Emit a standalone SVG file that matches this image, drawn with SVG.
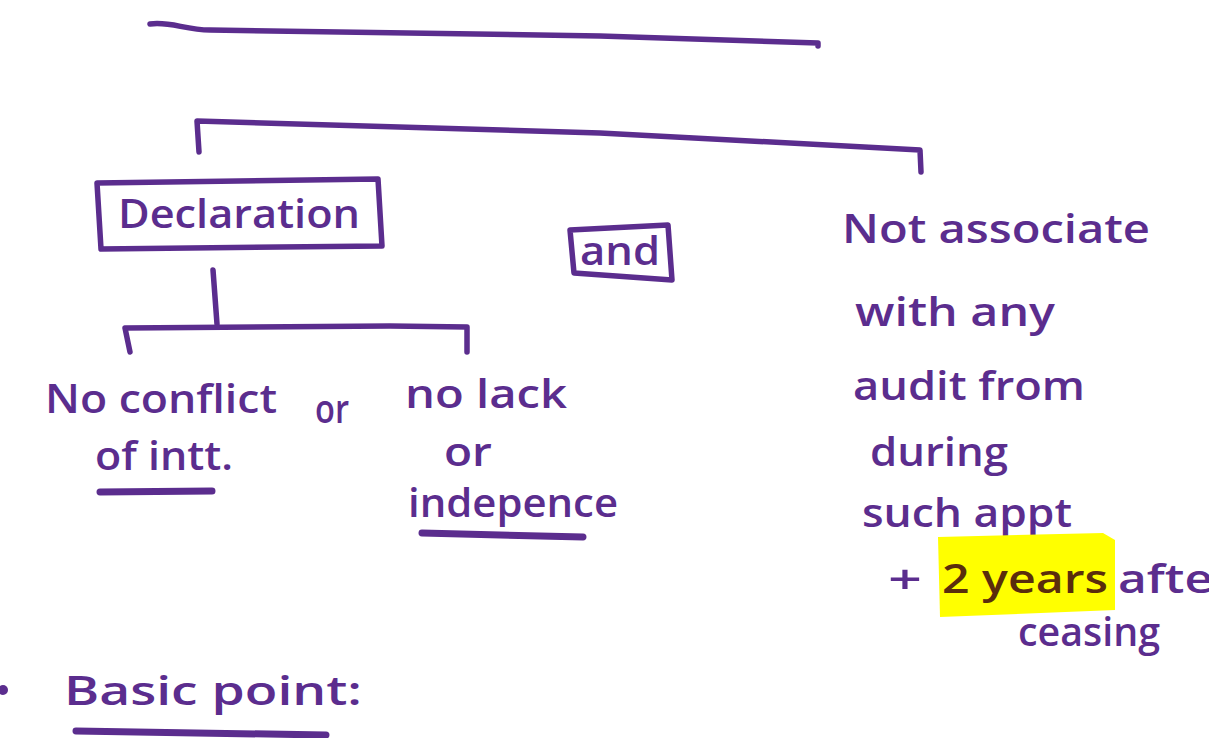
<svg xmlns="http://www.w3.org/2000/svg" width="1209" height="738" viewBox="0 0 1209 738">
<style>
.ln{fill:none;stroke:#5b2d8e;stroke-width:5.5;stroke-linecap:round;stroke-linejoin:round}
.ul{fill:none;stroke:#5b2d8e;stroke-width:7;stroke-linecap:round}
.t{font-family:"Open Sans","Liberation Sans",sans-serif;fill:#5b2d8e;font-size:40px;font-weight:600}
.hl{fill:#ffff00}
.dk{font-family:"Open Sans","Liberation Sans",sans-serif;fill:#5a2d0c;font-size:40px;font-weight:600}
</style>
<rect width="1209" height="738" fill="#ffffff"/>
<g id="title-underline">
<path class="ln" d="M150,24 C170,21 185,30 210,30 L600,36 L818,43 L818,46"/>
</g>
<g id="connectors">
<path class="ln" d="M199,152 L197,121 L600,133 L920,150 L921,172"/>
<path class="ln" d="M213,270 L217,324"/>
<path class="ln" d="M130,352 L125,328 L390,326 L467,327 L467,352"/>
</g>
<g id="declaration">
<path class="ln" d="M97,183 L378,179 L382,246 L101,249 Z"/>
<text class="t" x="118" y="228" textLength="242" lengthAdjust="spacingAndGlyphs">Declaration</text>
</g>
<g id="and">
<path class="ln" d="M570,230 L668,225 L672,280 L574,273 Z"/>
<text class="t" x="580" y="265" textLength="80" lengthAdjust="spacingAndGlyphs">and</text>
</g>
<g id="no-conflict">
<text class="t" x="45" y="413" textLength="232" lengthAdjust="spacingAndGlyphs">No conflict</text>
<text class="t" x="95" y="470" textLength="138" lengthAdjust="spacingAndGlyphs">of intt.</text>
<path class="ul" d="M100,492 L212,491"/>
</g>
<g id="or">
<text class="t" x="315" y="423" textLength="34" lengthAdjust="spacingAndGlyphs">or</text>
</g>
<g id="no-lack">
<text class="t" x="405" y="408" textLength="162" lengthAdjust="spacingAndGlyphs">no lack</text>
<text class="t" x="444" y="466" textLength="48" lengthAdjust="spacingAndGlyphs">or</text>
<text class="t" x="408" y="517" textLength="210" lengthAdjust="spacingAndGlyphs">indepence</text>
<path class="ul" d="M422,533 L583,537"/>
</g>
<g id="not-associate">
<text class="t" x="842" y="243" textLength="308" lengthAdjust="spacingAndGlyphs">Not associate</text>
<text class="t" x="855" y="326" textLength="200" lengthAdjust="spacingAndGlyphs">with any</text>
<text class="t" x="853" y="400" textLength="232" lengthAdjust="spacingAndGlyphs">audit from</text>
<text class="t" x="870" y="466" textLength="138" lengthAdjust="spacingAndGlyphs">during</text>
<text class="t" x="862" y="527" textLength="210" lengthAdjust="spacingAndGlyphs">such appt</text>
<text class="t" x="888" y="593" textLength="34" lengthAdjust="spacingAndGlyphs">+</text>
<path class="hl" d="M938,537 L1103,533 L1115,540 L1115,610 L940,617 Z"/>
<text class="dk" x="942" y="593" textLength="166" lengthAdjust="spacingAndGlyphs">2 years</text>
<text class="t" x="1118" y="593" textLength="95" lengthAdjust="spacingAndGlyphs">afte</text>
<text class="t" x="1018" y="646" textLength="142" lengthAdjust="spacingAndGlyphs">ceasing</text>
</g>
<g id="basic-point">
<circle cx="3" cy="690" r="5" fill="#5b2d8e"/>
<text class="t" x="64" y="705" textLength="298" lengthAdjust="spacingAndGlyphs">Basic point:</text>
<path class="ul" d="M76,731 L326,735"/>
</g>
</svg>
